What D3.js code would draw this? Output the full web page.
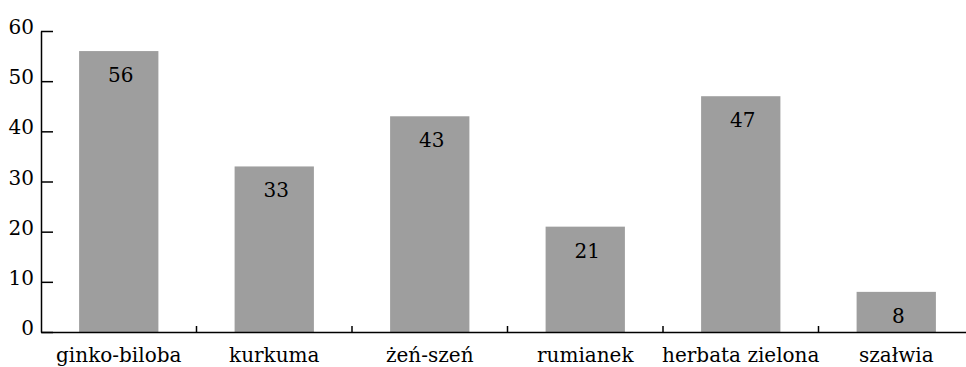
<!DOCTYPE html>
<html>
<head>
<meta charset="utf-8">
<script src="https://cdn.jsdelivr.net/npm/d3@7"></script>
<style>
  html, body { margin: 0; padding: 0; background: #fff; }
  svg { display: block; }
  text { font-family: "DejaVu Serif", serif; fill: #000; }
</style>
</head>
<body>
<svg id="chart" width="966" height="367"></svg>
<script>
// Herbs and the number of responses for each
const categories = ["ginko-biloba", "kurkuma", "żeń-szeń", "rumianek", "herbata zielona", "szałwia"];
const values = [56, 33, 43, 21, 47, 8];
const yTicks = [0, 10, 20, 30, 40, 50, 60];

const width = 966, height = 367;
const margin = { top: 31, right: -8, bottom: 35, left: 41 };
const numberSize = 20;
const labelSize = 20;

const svg = d3.select("#chart");

const x = d3.scaleBand()
  .domain(categories)
  .range([margin.left, width - margin.right])
  .paddingInner(0.49)
  .paddingOuter(0.245);

const y = d3.scaleLinear()
  .domain([0, 60])
  .range([height - margin.bottom, margin.top]);

// bars
svg.append("g")
  .selectAll("rect")
  .data(values)
  .join("rect")
  .attr("x", (d, i) => x(categories[i]))
  .attr("y", d => y(d))
  .attr("width", x.bandwidth())
  .attr("height", d => y(0) - y(d))
  .attr("fill", "#9e9e9e");

// value labels inside the top of each bar
svg.append("g")
  .selectAll("text")
  .data(values)
  .join("text")
  .attr("x", (d, i) => x(categories[i]) + x.bandwidth() / 2 + 2)
  .attr("y", d => y(d) + 31)
  .attr("text-anchor", "middle")
  .style("font-size", numberSize + "px")
  .text(d => d);

// y axis, ticks pointing into the plot
const yAxis = svg.append("g")
  .attr("transform", `translate(${margin.left},0)`)
  .call(d3.axisLeft(y).tickValues(yTicks).tickSizeInner(-12).tickSizeOuter(0).tickPadding(7));
yAxis.attr("font-family", null);
yAxis.selectAll("text")
  .style("font-size", numberSize + "px")
  .attr("dy", "0.13em");
yAxis.selectAll("line, path").attr("stroke", "#000").attr("stroke-width", 1.5);

// x axis with category labels
const xAxis = svg.append("g")
  .attr("transform", `translate(0,${y(0)})`)
  .call(d3.axisBottom(x).tickSize(0).tickPadding(16));
xAxis.attr("font-family", null);
xAxis.selectAll("text")
  .style("font-size", labelSize + "px");
xAxis.select("path").attr("stroke", "#000").attr("stroke-width", 1.5);

// short separator ticks between categories
const bounds = categories.slice(1).map(c => x(c) - x.step() * x.paddingInner() / 2);
xAxis.selectAll(".sep")
  .data(bounds)
  .join("line")
  .attr("class", "sep")
  .attr("x1", d => d).attr("x2", d => d)
  .attr("y1", 0).attr("y2", -6)
  .attr("stroke", "#000")
  .attr("stroke-width", 1.5);
</script>
</body>
</html>
